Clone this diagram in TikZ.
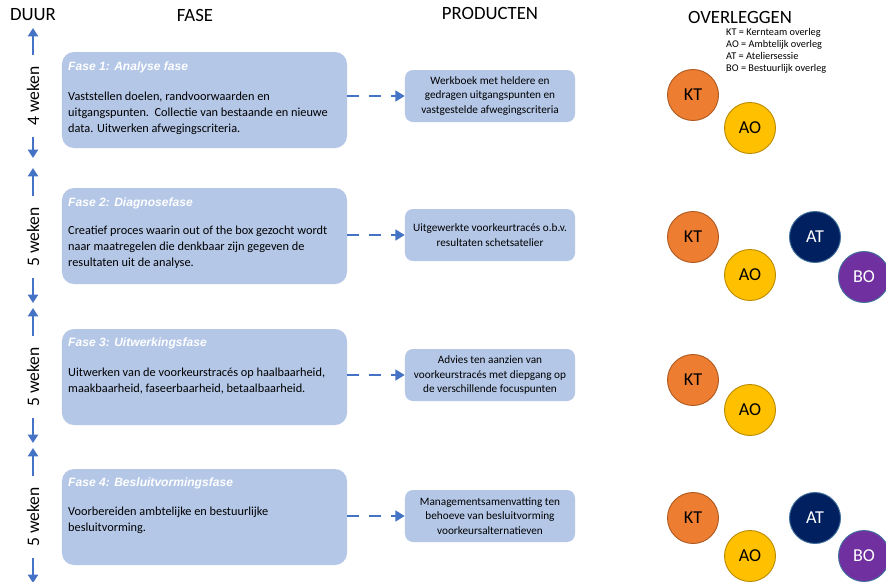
\documentclass[tikz,border=0pt]{standalone}
\usepackage{fontspec}
\setmainfont{Carlito}
\newfontfamily\titelfont{Liberation Sans}
\usepackage{tikz}
\usetikzlibrary{positioning}
\usetikzlibrary{arrows.meta}
\usepackage{xcolor}

\definecolor{faseblauw}{HTML}{B4C7E7}
\definecolor{pijlblauw}{HTML}{4472C4}
\definecolor{ktoranje}{HTML}{ED7D31}
\definecolor{ktrand}{HTML}{AE5A21}
\definecolor{aogeel}{HTML}{FFC000}
\definecolor{aorand}{HTML}{BC8C00}
\definecolor{atblauw}{HTML}{002060}
\definecolor{bopaars}{HTML}{7030A0}
\definecolor{randblauw}{HTML}{41719C}

\tikzset{
  kop/.style={font=\fontsize{16}{19}\selectfont, inner sep=0pt},
  fasebox/.style={fill=faseblauw, rounded corners=0.36cm, minimum width=8.55cm, minimum height=2.88cm},
  fasetitel/.style={font=\titelfont\bfseries\itshape\fontsize{10.3}{12}\selectfont, text=white, anchor=west, inner sep=0pt},
  fasetekst/.style={font=\fontsize{10.5}{13.6}\selectfont, align=left, anchor=north west, inner sep=0pt},
  productbox/.style={fill=faseblauw, rounded corners=0.24cm, minimum width=5.1cm, minimum height=1.56cm, align=center, font=\fontsize{9.6}{12.2}\selectfont, inner sep=0pt},
  pijl/.style={pijlblauw, line width=2.5pt, dash pattern=on 0.36cm off 0.3cm, -{Triangle[length=0.28cm, width=0.32cm]}},
  duur/.style={font=\fontsize{15}{18}\selectfont, rotate=90, inner xsep=0.33cm, inner ysep=0pt},
  duurpijl/.style={pijlblauw, line width=2.5pt, -{Triangle[length=0.25cm, width=0.3cm]}},
  overleg/.style={circle, minimum size=1.53cm, inner sep=0pt, line width=0.8pt, font=\fontsize{15.5}{18}\selectfont},
  ktcirkel/.style={overleg, fill=ktoranje, draw=ktrand},
  aocirkel/.style={overleg, fill=aogeel, draw=aorand},
  atcirkel/.style={overleg, fill=atblauw, draw=randblauw, text=white},
  bocirkel/.style={overleg, fill=bopaars, draw=randblauw, text=white},
  legenda/.style={font=\fontsize{8.8}{10.4}\selectfont, align=left, anchor=north west, inner sep=0pt}
}

\begin{document}
\begin{tikzpicture}[x=0.03cm, y=-0.03cm]

\useasboundingbox[fill=white] (0,0) rectangle (886,582);

% kopjes
\node[kop] (kopduur) at (33,15) {DUUR};
\node[kop] (kopfase) at (195,15) {FASE};
\node[kop] (kopproduct) at (490,13) {PRODUCTEN};
\node[kop] (kopoverleg) at (740,17) {OVERLEGGEN};

\node[legenda] (legenda) at (726,28) {KT = Kernteam overleg\\AO = Ambtelijk overleg\\AT = Ateliersessie\\BO = Bestuurlijk overleg};

% duur
\coordinate (boven1) at (33,28);
\coordinate (onder1) at (33,158);
\coordinate (boven2) at (33,168);
\coordinate (onder2) at (33,303);
\coordinate (boven3) at (33,308);
\coordinate (onder3) at (33,443);
\coordinate (boven4) at (33,448);
\coordinate (onder4) at (33,583);

\node[duur] (duur1) at (33,96) {4 weken};
\node[duur] (duur2) at (33,237) {5 weken};
\node[duur] (duur3) at (33,377) {5 weken};
\node[duur] (duur4) at (33,517) {5 weken};

\draw[duurpijl] (duur1.east) -- (boven1);
\draw[duurpijl] (duur1.west) -- (onder1);
\draw[duurpijl] (duur2.east) -- (boven2);
\draw[duurpijl] (duur2.west) -- (onder2);
\draw[duurpijl] (duur3.east) -- (boven3);
\draw[duurpijl] (duur3.west) -- (onder3);
\draw[duurpijl] (duur4.east) -- (boven4);
\draw[duurpijl] (duur4.west) -- (onder4);

% fasen
\node[fasebox] (fase1) at (204.5,100) {};
\node[fasetitel] (titel1) at (68,67) {Fase 1: Analyse fase};
\node[fasetekst] (tekst1) at (68,92) {Vaststellen doelen, randvoorwaarden en\\uitgangspunten.\ \ Collectie van bestaande en nieuwe\\data. Uitwerken afwegingscriteria.};

\node[fasebox] (fase2) at (204.5,236) {};
\node[fasetitel] (titel2) at (68,203) {Fase 2: Diagnosefase};
\node[fasetekst] (tekst2) at (68,226) {Creatief proces waarin out of the box gezocht wordt\\naar maatregelen die denkbaar zijn gegeven de\\resultaten uit de analyse.};

\node[fasebox] (fase3) at (204.5,377) {};
\node[fasetitel] (titel3) at (68,343) {Fase 3: Uitwerkingsfase};
\node[fasetekst] (tekst3) at (68,368) {Uitwerken van de voorkeurstracés op haalbaarheid,\\maakbaarheid, faseerbaarheid, betaalbaarheid.};

\node[fasebox] (fase4) at (204.5,517) {};
\node[fasetitel] (titel4) at (68,483) {Fase 4: Besluitvormingsfase};
\node[fasetekst] (tekst4) at (68,507) {Voorbereiden ambtelijke en bestuurlijke\\besluitvorming.};

% producten
\node[productbox] (product1) at (490,96) {Werkboek met heldere en\\gedragen uitgangspunten en\\vastgestelde afwegingscriteria};
\node[productbox] (product2) at (490,235) {Uitgewerkte voorkeurtracés o.b.v.\\resultaten schetsatelier};
\node[productbox] (product3) at (490,375) {Advies ten aanzien van\\voorkeurstracés met diepgang op\\de verschillende focuspunten};
\node[productbox] (product4) at (490,516) {Managementsamenvatting ten\\behoeve van besluitvorming\\voorkeursalternatieven};

\draw[pijl] (fase1.east |- product1) -- (product1.west);
\draw[pijl] (fase2.east |- product2) -- (product2.west);
\draw[pijl] (fase3.east |- product3) -- (product3.west);
\draw[pijl] (fase4.east |- product4) -- (product4.west);

% overleggen
\node[ktcirkel] (kt1) at (693,95) {KT};
\node[aocirkel] (ao1) at (750,128) {AO};

\node[ktcirkel] (kt2) at (693,237) {KT};
\node[aocirkel] (ao2) at (750,275) {AO};
\node[atcirkel] (at2) at (815,237) {AT};
\node[bocirkel] (bo2) at (864,277) {BO};

\node[ktcirkel] (kt3) at (693,380) {KT};
\node[aocirkel] (ao3) at (750,410) {AO};

\node[ktcirkel] (kt4) at (693,518) {KT};
\node[aocirkel] (ao4) at (750,556) {AO};
\node[atcirkel] (at4) at (815,518) {AT};
\node[bocirkel] (bo4) at (864,556) {BO};

\end{tikzpicture}
\end{document}
